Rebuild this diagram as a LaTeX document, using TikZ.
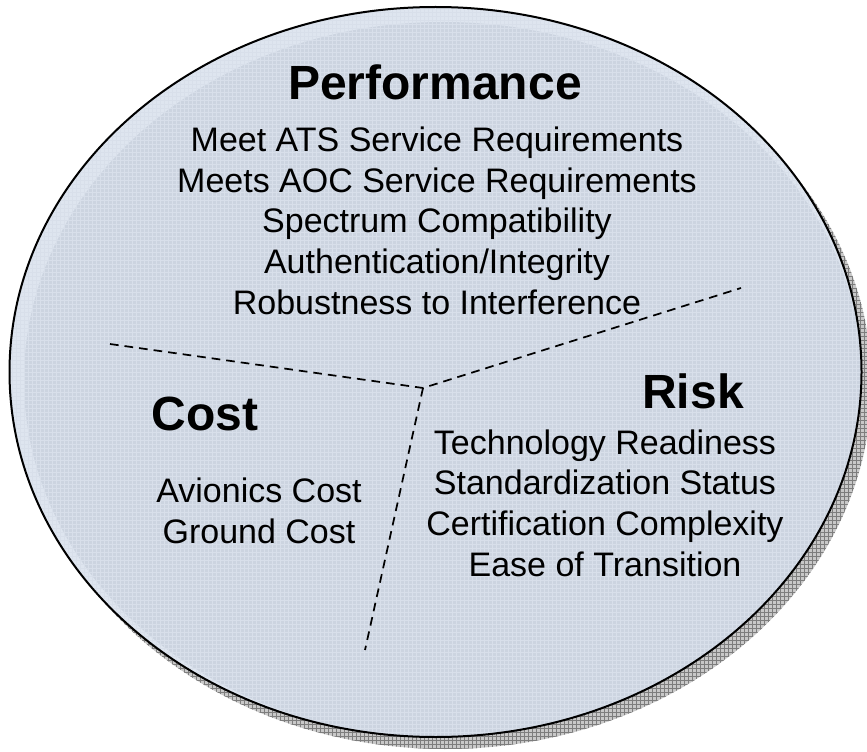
\documentclass[tikz,border=0pt]{standalone}
\usepackage{fontspec}
\setmainfont{Liberation Sans}
\usetikzlibrary{patterns}

\definecolor{ovalfill}{RGB}{204,212,224}
\definecolor{ovalrim}{RGB}{222,229,239}
\definecolor{ovalgrid}{RGB}{216,223,234}
\definecolor{shadowfill}{RGB}{200,200,200}
\definecolor{shadowgrid}{RGB}{125,125,125}

\tikzset{
  heading/.style={anchor=base, inner sep=0pt, font=\fontsize{36}{41}\selectfont\bfseries},
  itemlist/.style={anchor=base, inner sep=0pt, align=center, font=\fontsize{25.5}{30.5}\selectfont},
  divider/.style={dash pattern=on 6.5pt off 4.5pt, line width=1.3pt}
}

\begin{document}
\begin{tikzpicture}[x=0.75pt,y=0.75pt,yscale=-1,xscale=1]
\clip (0,0) rectangle (867,752);

%Shadow
\fill [shadowfill] (445.5,384) ellipse (426 and 365);
\fill [pattern=grid, pattern color=shadowgrid] (445.5,384) ellipse (426 and 365);

%Oval with light rim
\fill [ovalrim] (435.5,372) ellipse (426 and 365);
\begin{scope}
\clip (435.5,372) ellipse (426 and 365);
\fill [ovalfill] (443,380) ellipse (419 and 358);
\fill [pattern=grid, pattern color=ovalgrid] (435.5,372) ellipse (426 and 365);
\end{scope}
\draw [line width=1.5pt] (435.5,372) ellipse (426 and 365);

% Text Node
\node [heading] (perfTitle) at (435,100) {Performance};
% Text Node
\node [itemlist] (perfList) at (437,314) {Meet ATS Service Requirements\\Meets AOC Service Requirements\\Spectrum Compatibility\\Authentication/Integrity\\Robustness to Interference};
% Text Node
\node [heading] (costTitle) at (205,430) {Cost};
% Text Node
\node [itemlist] (costList) at (259,543) {Avionics Cost\\Ground Cost};
% Text Node
\node [heading] (riskTitle) at (693,408) {Risk};
% Text Node
\node [itemlist] (riskList) at (605,576) {Technology Readiness\\Standardization Status\\Certification Complexity\\Ease of Transition};

%Dashed dividers
\coordinate (hub) at (423,388);
\coordinate (costEnd) at (110,344);
\coordinate (perfEnd) at (741,288);
\coordinate (riskEnd) at (365,650);
\draw [divider] (costEnd) -- (hub) -- (perfEnd);
\draw [divider] (hub) -- (riskEnd);

\end{tikzpicture}
\end{document}
